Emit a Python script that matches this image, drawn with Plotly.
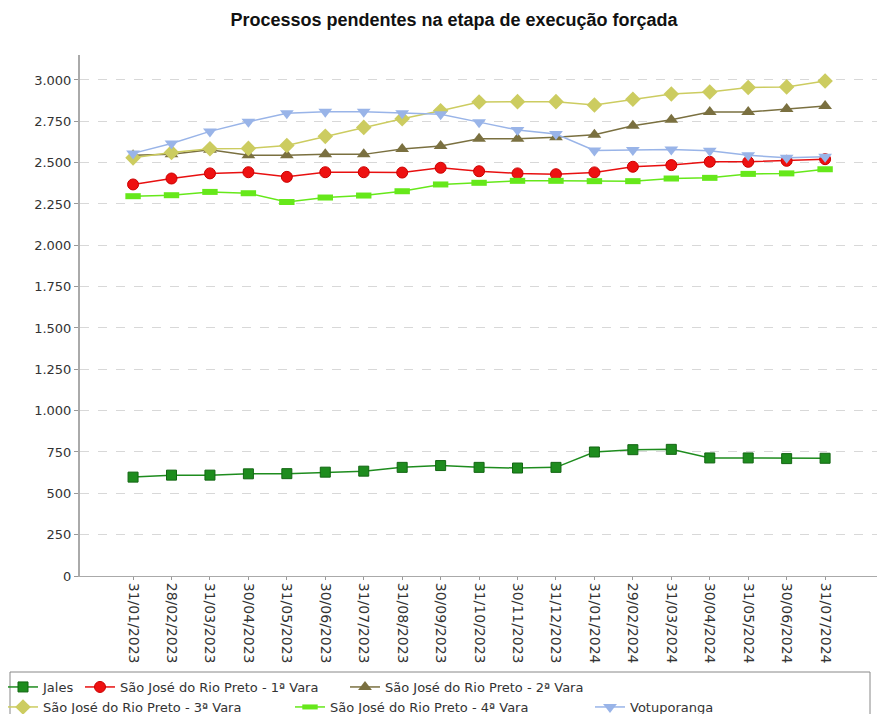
import plotly.graph_objects as go

categories = ["31/01/2023", "28/02/2023", "31/03/2023", "30/04/2023", "31/05/2023",
              "30/06/2023", "31/07/2023", "31/08/2023", "30/09/2023", "31/10/2023",
              "30/11/2023", "31/12/2023", "31/01/2024", "29/02/2024", "31/03/2024",
              "30/04/2024", "31/05/2024", "30/06/2024", "31/07/2024"]

jales = [598, 610, 610, 618, 619, 628, 634, 657, 668, 657, 653, 657, 750, 764, 766, 714, 714, 710, 712]
vara1 = [2368, 2404, 2435, 2442, 2414, 2442, 2442, 2440, 2469, 2448, 2435, 2430, 2441, 2475, 2485, 2505, 2505, 2511, 2521]
vara2 = [2545, 2551, 2578, 2545, 2545, 2550, 2550, 2582, 2600, 2644, 2644, 2653, 2669, 2723, 2760, 2806, 2806, 2824, 2842]
vara3 = [2529, 2562, 2584, 2586, 2604, 2659, 2713, 2766, 2814, 2867, 2869, 2869, 2849, 2883, 2915, 2927, 2954, 2958, 2994]
vara4 = [2297, 2303, 2323, 2315, 2262, 2289, 2301, 2327, 2368, 2378, 2390, 2390, 2388, 2388, 2404, 2408, 2432, 2435, 2460]
votuporanga = [2556, 2616, 2689, 2747, 2798, 2808, 2808, 2798, 2792, 2745, 2697, 2673, 2574, 2576, 2580, 2572, 2545, 2529, 2535]

series_names = ["Jales", "São José do Rio Preto - 1ª Vara", "São José do Rio Preto - 2ª Vara",
                "São José do Rio Preto - 3ª Vara", "São José do Rio Preto - 4ª Vara", "Votuporanga"]

L, T, R, B = 80, 55, 0, 138
W, H = 877, 714
pw = W - L - R
ph = H - T - B

def px(X):
    return (X - L) / pw

def py(Y):
    return (H - B - Y) / ph

# legend item placement: (text start x, row top y)
legend_pos = [(43, 672), (120, 672), (385, 672), (43, 692), (330, 692), (630, 692)]

x = list(range(len(categories)))
fig = go.Figure()

styles = [
    (jales, "#1e8c1e", dict(symbol="square", size=10, color="#1e8c1e", line=dict(color="#136613", width=1))),
    (vara1, "#e81010", dict(symbol="circle", size=11, color="#ee1111", line=dict(color="#cc0000", width=1))),
    (vara2, "#7a7040", dict(symbol="triangle-up", size=12, color="#7a7040", line=dict(width=0))),
    (vara3, "#cccc60", dict(symbol="diamond", size=12, color="#cccc60", line=dict(width=0))),
    (vara4, "#66e81a", dict(symbol="line-ew", size=11, color="#66e81a", line=dict(color="#66e81a", width=6))),
    (votuporanga, "#99b4e8", dict(symbol="triangle-down", size=12, color="#99b4e8", line=dict(width=0))),
]

legend_layouts = {}
for i, (name, (vals, lc, mk)) in enumerate(zip(series_names, styles)):
    lg = "legend" if i == 0 else f"legend{i + 1}"
    fig.add_trace(go.Scatter(x=x, y=vals, name=name, mode="lines+markers",
                             line=dict(color=lc, width=1.5), marker=mk, legend=lg))
    tx, ty = legend_pos[i]
    legend_layouts[lg] = dict(orientation="h", x=px(tx - 40), y=py(ty), xanchor="left", yanchor="top",
                              font=dict(family="DejaVu Sans", size=13, color="#333333"),
                              bgcolor="rgba(0,0,0,0)", borderwidth=0, itemwidth=30)

fig.update_layout(
    width=W, height=H,
    margin=dict(l=L, r=R, t=T, b=B, autoexpand=False),
    paper_bgcolor="white", plot_bgcolor="white",
    separators=",.",
    font=dict(family="DejaVu Sans", size=13, color="#333333"),
    title=dict(text="<b>Processos pendentes na etapa de execução forçada</b>",
               x=454 / W, xref="container", xanchor="center",
               y=1 - 20 / H, yref="container", yanchor="middle",
               font=dict(family="Liberation Sans", size=18, color="#111111")),
    showlegend=True,
    shapes=[dict(type="rect", xref="paper", yref="paper",
                 x0=px(10), x1=px(870), y0=py(672), y1=py(740),
                 line=dict(color="#888888", width=1), fillcolor="rgba(0,0,0,0)")],
    **legend_layouts,
)

fig.update_xaxes(
    range=[-1.38, 19.35],
    tickmode="array", tickvals=x, ticktext=categories,
    tickangle=90, ticks="outside", ticklen=3, tickcolor="#999999",
    showgrid=False, zeroline=False,
    showline=True, linecolor="#aaaaaa", linewidth=1,
    tickfont=dict(family="DejaVu Sans", size=14, color="#333333"),
)

fig.update_yaxes(
    range=[0, 3151],
    tickmode="array", tickvals=[0, 250, 500, 750, 1000, 1250, 1500, 1750, 2000, 2250, 2500, 2750, 3000],
    tickformat=",d",
    ticks="outside", ticklen=4, tickcolor="#999999",
    showgrid=True, gridcolor="#d8d8d8", griddash="dash", gridwidth=1,
    zeroline=False,
    showline=True, linecolor="#aaaaaa", linewidth=2,
    tickfont=dict(family="DejaVu Sans", size=13, color="#333333"),
)

fig.write_html("out.html", config={"displayModeBar": False},
               post_script="document.body.style.margin='0';document.body.style.overflow='hidden';")
